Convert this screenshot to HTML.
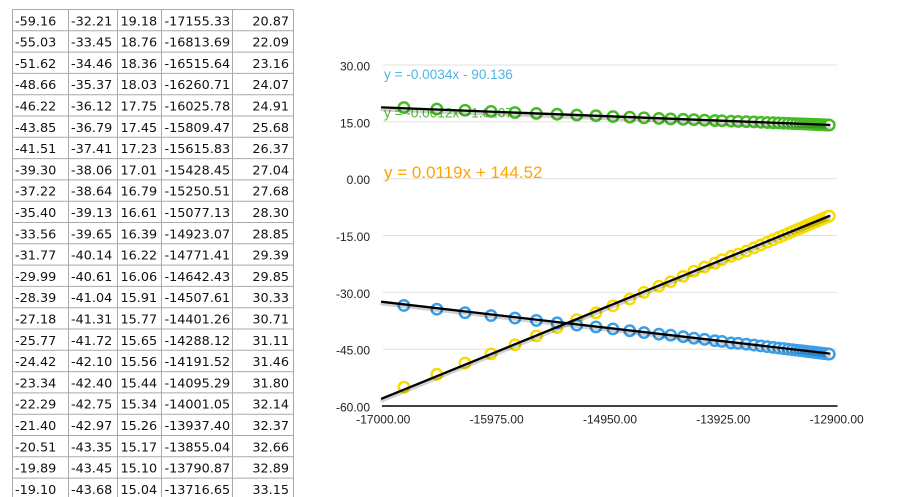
<!DOCTYPE html>
<html><head><meta charset="utf-8"><style>
html,body{margin:0;padding:0;background:#fff;}
svg{display:block;}
</style></head><body>
<svg width="897" height="497" viewBox="0 0 897 497" xmlns="http://www.w3.org/2000/svg">
<rect width="897" height="497" fill="#fff"/>
<!-- TABLE -->
<g stroke="#a9a9a9" stroke-width="1" fill="none">
<line x1="12.5" y1="9.5" x2="12.5" y2="497"/>
<line x1="68.5" y1="9.5" x2="68.5" y2="497"/>
<line x1="117.5" y1="9.5" x2="117.5" y2="497"/>
<line x1="161.5" y1="9.5" x2="161.5" y2="497"/>
<line x1="232.5" y1="9.5" x2="232.5" y2="497"/>
<line x1="293.5" y1="9.5" x2="293.5" y2="497"/>
<line x1="12.5" x2="293.5" y1="9.5" y2="9.5"/>
<line x1="12.5" x2="293.5" y1="30.8" y2="30.8"/>
<line x1="12.5" x2="293.5" y1="52.1" y2="52.1"/>
<line x1="12.5" x2="293.5" y1="73.4" y2="73.4"/>
<line x1="12.5" x2="293.5" y1="94.7" y2="94.7"/>
<line x1="12.5" x2="293.5" y1="116" y2="116"/>
<line x1="12.5" x2="293.5" y1="137.3" y2="137.3"/>
<line x1="12.5" x2="293.5" y1="158.6" y2="158.6"/>
<line x1="12.5" x2="293.5" y1="179.9" y2="179.9"/>
<line x1="12.5" x2="293.5" y1="201.2" y2="201.2"/>
<line x1="12.5" x2="293.5" y1="222.5" y2="222.5"/>
<line x1="12.5" x2="293.5" y1="243.8" y2="243.8"/>
<line x1="12.5" x2="293.5" y1="265.1" y2="265.1"/>
<line x1="12.5" x2="293.5" y1="286.4" y2="286.4"/>
<line x1="12.5" x2="293.5" y1="307.7" y2="307.7"/>
<line x1="12.5" x2="293.5" y1="329" y2="329"/>
<line x1="12.5" x2="293.5" y1="350.3" y2="350.3"/>
<line x1="12.5" x2="293.5" y1="371.6" y2="371.6"/>
<line x1="12.5" x2="293.5" y1="392.9" y2="392.9"/>
<line x1="12.5" x2="293.5" y1="414.2" y2="414.2"/>
<line x1="12.5" x2="293.5" y1="435.5" y2="435.5"/>
<line x1="12.5" x2="293.5" y1="456.8" y2="456.8"/>
<line x1="12.5" x2="293.5" y1="478.1" y2="478.1"/>
</g>
<g font-family="DejaVu Sans, Verdana, sans-serif" font-size="12.8" fill="#111">
<text x="15" y="25.3">-59.16</text><text x="71" y="25.3">-32.21</text><text x="120.5" y="25.3">19.18</text><text x="164.5" y="25.3">-17155.33</text><text x="289" y="25.3" text-anchor="end">20.87</text>
<text x="15" y="46.6">-55.03</text><text x="71" y="46.6">-33.45</text><text x="120.5" y="46.6">18.76</text><text x="164.5" y="46.6">-16813.69</text><text x="289" y="46.6" text-anchor="end">22.09</text>
<text x="15" y="67.9">-51.62</text><text x="71" y="67.9">-34.46</text><text x="120.5" y="67.9">18.36</text><text x="164.5" y="67.9">-16515.64</text><text x="289" y="67.9" text-anchor="end">23.16</text>
<text x="15" y="89.2">-48.66</text><text x="71" y="89.2">-35.37</text><text x="120.5" y="89.2">18.03</text><text x="164.5" y="89.2">-16260.71</text><text x="289" y="89.2" text-anchor="end">24.07</text>
<text x="15" y="110.5">-46.22</text><text x="71" y="110.5">-36.12</text><text x="120.5" y="110.5">17.75</text><text x="164.5" y="110.5">-16025.78</text><text x="289" y="110.5" text-anchor="end">24.91</text>
<text x="15" y="131.8">-43.85</text><text x="71" y="131.8">-36.79</text><text x="120.5" y="131.8">17.45</text><text x="164.5" y="131.8">-15809.47</text><text x="289" y="131.8" text-anchor="end">25.68</text>
<text x="15" y="153.1">-41.51</text><text x="71" y="153.1">-37.41</text><text x="120.5" y="153.1">17.23</text><text x="164.5" y="153.1">-15615.83</text><text x="289" y="153.1" text-anchor="end">26.37</text>
<text x="15" y="174.4">-39.30</text><text x="71" y="174.4">-38.06</text><text x="120.5" y="174.4">17.01</text><text x="164.5" y="174.4">-15428.45</text><text x="289" y="174.4" text-anchor="end">27.04</text>
<text x="15" y="195.7">-37.22</text><text x="71" y="195.7">-38.64</text><text x="120.5" y="195.7">16.79</text><text x="164.5" y="195.7">-15250.51</text><text x="289" y="195.7" text-anchor="end">27.68</text>
<text x="15" y="217">-35.40</text><text x="71" y="217">-39.13</text><text x="120.5" y="217">16.61</text><text x="164.5" y="217">-15077.13</text><text x="289" y="217" text-anchor="end">28.30</text>
<text x="15" y="238.3">-33.56</text><text x="71" y="238.3">-39.65</text><text x="120.5" y="238.3">16.39</text><text x="164.5" y="238.3">-14923.07</text><text x="289" y="238.3" text-anchor="end">28.85</text>
<text x="15" y="259.6">-31.77</text><text x="71" y="259.6">-40.14</text><text x="120.5" y="259.6">16.22</text><text x="164.5" y="259.6">-14771.41</text><text x="289" y="259.6" text-anchor="end">29.39</text>
<text x="15" y="280.9">-29.99</text><text x="71" y="280.9">-40.61</text><text x="120.5" y="280.9">16.06</text><text x="164.5" y="280.9">-14642.43</text><text x="289" y="280.9" text-anchor="end">29.85</text>
<text x="15" y="302.2">-28.39</text><text x="71" y="302.2">-41.04</text><text x="120.5" y="302.2">15.91</text><text x="164.5" y="302.2">-14507.61</text><text x="289" y="302.2" text-anchor="end">30.33</text>
<text x="15" y="323.5">-27.18</text><text x="71" y="323.5">-41.31</text><text x="120.5" y="323.5">15.77</text><text x="164.5" y="323.5">-14401.26</text><text x="289" y="323.5" text-anchor="end">30.71</text>
<text x="15" y="344.8">-25.77</text><text x="71" y="344.8">-41.72</text><text x="120.5" y="344.8">15.65</text><text x="164.5" y="344.8">-14288.12</text><text x="289" y="344.8" text-anchor="end">31.11</text>
<text x="15" y="366.1">-24.42</text><text x="71" y="366.1">-42.10</text><text x="120.5" y="366.1">15.56</text><text x="164.5" y="366.1">-14191.52</text><text x="289" y="366.1" text-anchor="end">31.46</text>
<text x="15" y="387.4">-23.34</text><text x="71" y="387.4">-42.40</text><text x="120.5" y="387.4">15.44</text><text x="164.5" y="387.4">-14095.29</text><text x="289" y="387.4" text-anchor="end">31.80</text>
<text x="15" y="408.7">-22.29</text><text x="71" y="408.7">-42.75</text><text x="120.5" y="408.7">15.34</text><text x="164.5" y="408.7">-14001.05</text><text x="289" y="408.7" text-anchor="end">32.14</text>
<text x="15" y="430">-21.40</text><text x="71" y="430">-42.97</text><text x="120.5" y="430">15.26</text><text x="164.5" y="430">-13937.40</text><text x="289" y="430" text-anchor="end">32.37</text>
<text x="15" y="451.3">-20.51</text><text x="71" y="451.3">-43.35</text><text x="120.5" y="451.3">15.17</text><text x="164.5" y="451.3">-13855.04</text><text x="289" y="451.3" text-anchor="end">32.66</text>
<text x="15" y="472.6">-19.89</text><text x="71" y="472.6">-43.45</text><text x="120.5" y="472.6">15.10</text><text x="164.5" y="472.6">-13790.87</text><text x="289" y="472.6" text-anchor="end">32.89</text>
<text x="15" y="493.9">-19.10</text><text x="71" y="493.9">-43.68</text><text x="120.5" y="493.9">15.04</text><text x="164.5" y="493.9">-13716.65</text><text x="289" y="493.9" text-anchor="end">33.15</text>
</g>

<!-- CHART grid -->
<g stroke="#e2e2e2" stroke-width="1">
<line x1="383" x2="837" y1="65" y2="65"/>
<line x1="383" x2="837" y1="121.8" y2="121.8"/>
<line x1="383" x2="837" y1="178.7" y2="178.7"/>
<line x1="383" x2="837" y1="235.5" y2="235.5"/>
<line x1="383" x2="837" y1="292.3" y2="292.3"/>
<line x1="383" x2="837" y1="349.2" y2="349.2"/>
</g>
<line x1="382" x2="837.5" y1="406" y2="406" stroke="#000" stroke-width="1.5"/>
<g font-family="Liberation Sans, Arial, sans-serif" font-size="12" fill="#222" text-anchor="end">
<text x="370" y="70.6">30.00</text>
<text x="370" y="127.4">15.00</text>
<text x="370" y="184.2">0.00</text>
<text x="370" y="241">-15.00</text>
<text x="370" y="297.8">-30.00</text>
<text x="370" y="354.7">-45.00</text>
<text x="370" y="411.5">-60.00</text>
</g>
<g font-family="Liberation Sans, Arial, sans-serif" font-size="12" fill="#222" text-anchor="middle">
<text x="383.3" y="423.5">-17000.00</text>
<text x="496.7" y="423.5">-15975.00</text>
<text x="610" y="423.5">-14950.00</text>
<text x="723.3" y="423.5">-13925.00</text>
<text x="836.7" y="423.5">-12900.00</text>
</g>

<!-- equations -->
<g font-family="Liberation Sans, Arial, sans-serif">
<text x="384" y="79" font-size="13.6" fill="#52b4e6">y = -0.0034x - 90.136</text>
<text x="384" y="117.5" font-size="13.6" fill="#46bd2a">y = -0.0012x - 1.0207</text>
<text x="384" y="178" font-size="17" fill="#ffa500">y = 0.0119x + 144.52</text>
</g>

<!-- yellow series -->
<g fill="#fff" stroke="#f7dc00" stroke-width="2.5">
<circle cx="403.90" cy="387.18" r="5.2"/><circle cx="436.86" cy="374.26" r="5.2"/><circle cx="465.05" cy="363.04" r="5.2"/><circle cx="491.03" cy="353.80" r="5.2"/><circle cx="514.95" cy="344.82" r="5.2"/><circle cx="536.37" cy="335.95" r="5.2"/><circle cx="557.09" cy="327.58" r="5.2"/><circle cx="576.77" cy="319.70" r="5.2"/><circle cx="595.94" cy="312.80" r="5.2"/><circle cx="612.98" cy="305.83" r="5.2"/><circle cx="629.75" cy="299.05" r="5.2"/><circle cx="644.01" cy="292.30" r="5.2"/><circle cx="658.92" cy="286.24" r="5.2"/><circle cx="670.68" cy="281.66" r="5.2"/><circle cx="683.19" cy="276.31" r="5.2"/><circle cx="693.88" cy="271.20" r="5.2"/><circle cx="704.52" cy="267.11" r="5.2"/><circle cx="714.94" cy="263.13" r="5.2"/><circle cx="721.98" cy="259.75" r="5.2"/><circle cx="731.09" cy="256.38" r="5.2"/><circle cx="738.18" cy="254.03" r="5.2"/><circle cx="746.39" cy="251.04" r="5.2"/>
<circle cx="753.96" cy="247.84" r="5.2"/><circle cx="760.93" cy="244.90" r="5.2"/><circle cx="767.34" cy="242.19" r="5.2"/><circle cx="773.24" cy="239.70" r="5.2"/><circle cx="778.66" cy="237.41" r="5.2"/><circle cx="783.65" cy="235.30" r="5.2"/><circle cx="788.24" cy="233.36" r="5.2"/><circle cx="792.46" cy="231.58" r="5.2"/><circle cx="796.35" cy="229.93" r="5.2"/><circle cx="799.93" cy="228.42" r="5.2"/><circle cx="803.22" cy="227.03" r="5.2"/><circle cx="806.25" cy="225.75" r="5.2"/><circle cx="809.03" cy="224.58" r="5.2"/><circle cx="811.59" cy="223.49" r="5.2"/><circle cx="813.95" cy="222.50" r="5.2"/><circle cx="816.12" cy="221.58" r="5.2"/><circle cx="818.11" cy="220.74" r="5.2"/><circle cx="819.94" cy="219.97" r="5.2"/><circle cx="821.63" cy="219.25" r="5.2"/><circle cx="823.18" cy="218.60" r="5.2"/><circle cx="824.61" cy="217.99" r="5.2"/><circle cx="825.92" cy="217.44" r="5.2"/><circle cx="827.13" cy="216.93" r="5.2"/><circle cx="828.24" cy="216.46" r="5.2"/><circle cx="829.26" cy="216.03" r="5.2"/>
</g>
<!-- blue series -->
<g fill="#fff" stroke="#3a9fe9" stroke-width="2.5">
<circle cx="403.90" cy="305.41" r="5.2"/><circle cx="436.86" cy="309.24" r="5.2"/><circle cx="465.05" cy="312.69" r="5.2"/><circle cx="491.03" cy="315.53" r="5.2"/><circle cx="514.95" cy="318.07" r="5.2"/><circle cx="536.37" cy="320.42" r="5.2"/><circle cx="557.09" cy="322.88" r="5.2"/><circle cx="576.77" cy="325.08" r="5.2"/><circle cx="595.94" cy="326.93" r="5.2"/><circle cx="612.98" cy="328.90" r="5.2"/><circle cx="629.75" cy="330.76" r="5.2"/><circle cx="644.01" cy="332.54" r="5.2"/><circle cx="658.92" cy="334.17" r="5.2"/><circle cx="670.68" cy="335.19" r="5.2"/><circle cx="683.19" cy="336.75" r="5.2"/><circle cx="693.88" cy="338.19" r="5.2"/><circle cx="704.52" cy="339.32" r="5.2"/><circle cx="714.94" cy="340.65" r="5.2"/><circle cx="721.98" cy="341.48" r="5.2"/><circle cx="731.09" cy="342.92" r="5.2"/><circle cx="738.18" cy="343.30" r="5.2"/><circle cx="746.39" cy="344.17" r="5.2"/>
<circle cx="753.96" cy="345.08" r="5.2"/><circle cx="760.93" cy="345.91" r="5.2"/><circle cx="767.34" cy="346.68" r="5.2"/><circle cx="773.24" cy="347.39" r="5.2"/><circle cx="778.66" cy="348.04" r="5.2"/><circle cx="783.65" cy="348.63" r="5.2"/><circle cx="788.24" cy="349.18" r="5.2"/><circle cx="792.46" cy="349.69" r="5.2"/><circle cx="796.35" cy="350.16" r="5.2"/><circle cx="799.93" cy="350.59" r="5.2"/><circle cx="803.22" cy="350.98" r="5.2"/><circle cx="806.25" cy="351.34" r="5.2"/><circle cx="809.03" cy="351.68" r="5.2"/><circle cx="811.59" cy="351.98" r="5.2"/><circle cx="813.95" cy="352.26" r="5.2"/><circle cx="816.12" cy="352.52" r="5.2"/><circle cx="818.11" cy="352.76" r="5.2"/><circle cx="819.94" cy="352.98" r="5.2"/><circle cx="821.63" cy="353.19" r="5.2"/><circle cx="823.18" cy="353.37" r="5.2"/><circle cx="824.61" cy="353.54" r="5.2"/><circle cx="825.92" cy="353.70" r="5.2"/><circle cx="827.13" cy="353.84" r="5.2"/><circle cx="828.24" cy="353.98" r="5.2"/><circle cx="829.26" cy="354.10" r="5.2"/>
</g>
<!-- green series -->
<g fill="#fff" stroke="#47bb26" stroke-width="2.5">
<circle cx="403.90" cy="107.59" r="5.2"/><circle cx="436.86" cy="109.10" r="5.2"/><circle cx="465.05" cy="110.35" r="5.2"/><circle cx="491.03" cy="111.42" r="5.2"/><circle cx="514.95" cy="112.55" r="5.2"/><circle cx="536.37" cy="113.39" r="5.2"/><circle cx="557.09" cy="114.22" r="5.2"/><circle cx="576.77" cy="115.05" r="5.2"/><circle cx="595.94" cy="115.73" r="5.2"/><circle cx="612.98" cy="116.57" r="5.2"/><circle cx="629.75" cy="117.21" r="5.2"/><circle cx="644.01" cy="117.82" r="5.2"/><circle cx="658.92" cy="118.39" r="5.2"/><circle cx="670.68" cy="118.92" r="5.2"/><circle cx="683.19" cy="119.37" r="5.2"/><circle cx="693.88" cy="119.71" r="5.2"/><circle cx="704.52" cy="120.17" r="5.2"/><circle cx="714.94" cy="120.55" r="5.2"/><circle cx="721.98" cy="120.85" r="5.2"/><circle cx="731.09" cy="121.19" r="5.2"/><circle cx="738.18" cy="121.46" r="5.2"/><circle cx="746.39" cy="121.68" r="5.2"/>
<circle cx="753.96" cy="121.98" r="5.2"/><circle cx="760.93" cy="122.27" r="5.2"/><circle cx="767.34" cy="122.52" r="5.2"/><circle cx="773.24" cy="122.76" r="5.2"/><circle cx="778.66" cy="122.98" r="5.2"/><circle cx="783.65" cy="123.18" r="5.2"/><circle cx="788.24" cy="123.37" r="5.2"/><circle cx="792.46" cy="123.54" r="5.2"/><circle cx="796.35" cy="123.69" r="5.2"/><circle cx="799.93" cy="123.84" r="5.2"/><circle cx="803.22" cy="123.97" r="5.2"/><circle cx="806.25" cy="124.09" r="5.2"/><circle cx="809.03" cy="124.20" r="5.2"/><circle cx="811.59" cy="124.31" r="5.2"/><circle cx="813.95" cy="124.40" r="5.2"/><circle cx="816.12" cy="124.49" r="5.2"/><circle cx="818.11" cy="124.57" r="5.2"/><circle cx="819.94" cy="124.64" r="5.2"/><circle cx="821.63" cy="124.71" r="5.2"/><circle cx="823.18" cy="124.77" r="5.2"/><circle cx="824.61" cy="124.83" r="5.2"/><circle cx="825.92" cy="124.88" r="5.2"/><circle cx="827.13" cy="124.93" r="5.2"/><circle cx="828.24" cy="124.98" r="5.2"/><circle cx="829.26" cy="125.02" r="5.2"/>
</g>

<!-- trend line shadows -->
<g stroke="#000" stroke-opacity="0.18" stroke-width="3.5" stroke-linecap="round">
<line x1="382" y1="400.6" x2="829.3" y2="218.3"/>
<line x1="382" y1="303.8" x2="829.3" y2="355.7"/>
<line x1="382" y1="109.7" x2="829.3" y2="127.3"/>
</g>
<!-- trend lines -->
<g stroke="#000" stroke-width="2.3" stroke-linecap="round">
<line x1="382" y1="398.6" x2="829.3" y2="216"/>
<line x1="382" y1="301.8" x2="829.3" y2="353.5"/>
<line x1="382" y1="107.4" x2="829.3" y2="124.9"/>
</g>
</svg>
</body></html>
